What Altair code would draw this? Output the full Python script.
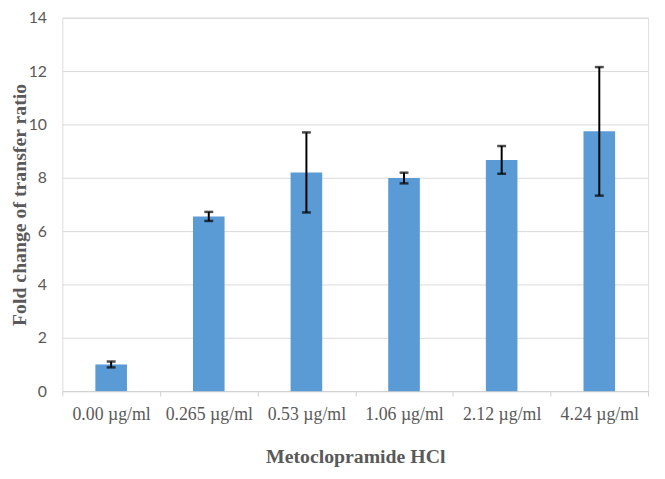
import altair as alt
import pandas as pd

categories = ["0.00 µg/ml", "0.265 µg/ml", "0.53 µg/ml", "1.06 µg/ml", "2.12 µg/ml", "4.24 µg/ml"]
means = [1.00, 6.55, 8.20, 7.99, 8.67, 9.74]
errors = [0.11, 0.17, 1.50, 0.20, 0.52, 2.41]
y_ticks = [0, 2, 4, 6, 8, 10, 12, 14]

df = pd.DataFrame({"cat": categories, "mean": means, "err": errors})
df["lo"] = df["mean"] - df["err"]
df["hi"] = df["mean"] + df["err"]

grey = "#595959"
x_enc = alt.X(
    "cat:N",
    sort=categories,
    scale=alt.Scale(paddingInner=0, paddingOuter=0),
    axis=alt.Axis(
        title="Metoclopramide HCl",
        labelAngle=0,
        labelFont="Liberation Serif",
        labelFontSize=18,
        labelColor=grey,
        labelPadding=10,
        tickBand="extent",
        tickSize=5,
        tickColor="#d0d0d0",
        domainColor="#d0d0d0",
        grid=False,
        titleFont="Liberation Serif",
        titleFontSize=20,
        titleFontWeight="bold",
        titleColor=grey,
        titleY=66,
        titleBaseline="middle",
    ),
)

y_scale = alt.Scale(domain=[0, 14], nice=False)

bars = alt.Chart(df).mark_bar(size=32, color="#5B9BD5").encode(
    x=x_enc,
    y=alt.Y(
        "mean:Q",
        scale=y_scale,
        axis=alt.Axis(
            values=y_ticks,
            title="Fold change of transfer ratio",
            domain=False,
            ticks=False,
            gridColor="#d9d9d9",
            gridWidth=1,
            labelFont="Lato",
            labelFontSize=16,
            labelColor=grey,
            labelPadding=16,
            titleFont="Liberation Serif",
            titleFontSize=20,
            titleFontWeight="bold",
            titleColor=grey,
            titleX=-43,
            titleY=189,
            titleBaseline="middle",
        ),
    ),
)

rules = alt.Chart(df).mark_rule(color="black", strokeWidth=2).encode(
    x=alt.X("cat:N", sort=categories),
    y=alt.Y("lo:Q", scale=y_scale),
    y2="hi:Q",
)

cap_lo = alt.Chart(df).mark_tick(color="black", size=9, thickness=2.5).encode(
    x=alt.X("cat:N", sort=categories),
    y=alt.Y("lo:Q", scale=y_scale),
)
cap_hi = alt.Chart(df).mark_tick(color="black", size=9, thickness=2.5).encode(
    x=alt.X("cat:N", sort=categories),
    y=alt.Y("hi:Q", scale=y_scale),
)

chart = (
    alt.layer(bars, rules, cap_lo, cap_hi)
    .properties(
        width=593,
        height=378,
        autosize=alt.AutoSizeParams(type="none"),
        padding={"left": 55, "top": 7, "right": 9, "bottom": 78},
    )
    .configure_view(stroke=None)
    .configure(background="white")
)

chart.save("out.html", embed_options={"renderer": "svg", "actions": False})
